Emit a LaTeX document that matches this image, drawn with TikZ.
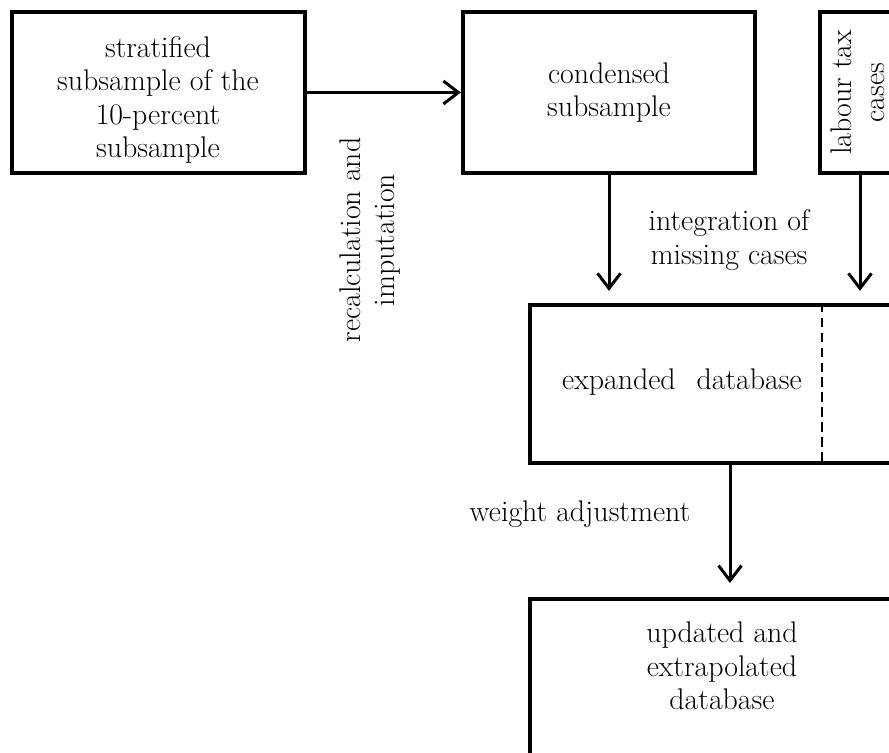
\documentclass[tikz,border=0pt]{standalone}
\usetikzlibrary{arrows.meta}

\begin{document}
\begin{tikzpicture}[
    x=0.02cm, y=-0.02cm,
    every node/.style={font=\fontsize{17}{19}\selectfont},
    box/.style={rectangle, draw=black, line width=2.5pt, align=center, inner sep=0pt},
    lbl/.style={align=center, inner sep=1pt},
    arr/.style={-{Straight Barb[length=3mm, width=4.6mm]}, line width=1.7pt, draw=black},
    sep/.style={draw=black, line width=1.3pt, dash pattern=on 5.5pt off 3pt}
]
    \useasboundingbox (0,0) rectangle (889,753);
    \clip (0,0) rectangle (889,753);

    \node[box, minimum width=5.86cm, minimum height=3.22cm] (sample) at (158.5,92.5) {};
    \node[lbl] (sampletext) at (158,100) {stratified\\subsample of the\\10-percent\\subsample};
    \node[box, minimum width=5.84cm, minimum height=3.22cm] (condensed) at (609,92.5)
        {condensed\\subsample};
    \node[box, rotate=90, minimum width=3.22cm, minimum height=1.5cm] (labour) at (857.5,92.5)
        {labour tax\\cases};

    \node[box, minimum width=7.68cm, minimum height=3.16cm] (expanded) at (722,384) {};
    \node[lbl] (exptext) at (682,382) {expanded\hspace{0.4em} database};
    \coordinate (split) at (822,384);

    \node[box, minimum width=7.68cm, minimum height=4.2cm, anchor=north] (updated) at (722,597) {};
    \node[lbl] (updtext) at (722,666) {updated and\\extrapolated\\database};

    \node[lbl, rotate=90] (recalc) at (370,240) {recalculation and\\imputation};
    \node[lbl] (integr) at (729,240) {integration of\\missing cases};
    \node[lbl] (weight) at (580,514) {weight adjustment};

    \draw[sep] (split |- expanded.north) -- (split |- expanded.south);

    \draw[arr] (sample) -- (condensed);
    \draw[arr, shorten >=0.24cm] (condensed) -- (condensed |- expanded.north);
    \draw[arr, shorten >=0.24cm] ([xshift=0.05cm]labour.west) -- ([xshift=0.05cm]labour.west |- expanded.north);
    \draw[arr, shorten >=0.28cm] ([xshift=0.16cm]expanded.south) -- ([xshift=0.16cm]updated.north);
\end{tikzpicture}
\end{document}
